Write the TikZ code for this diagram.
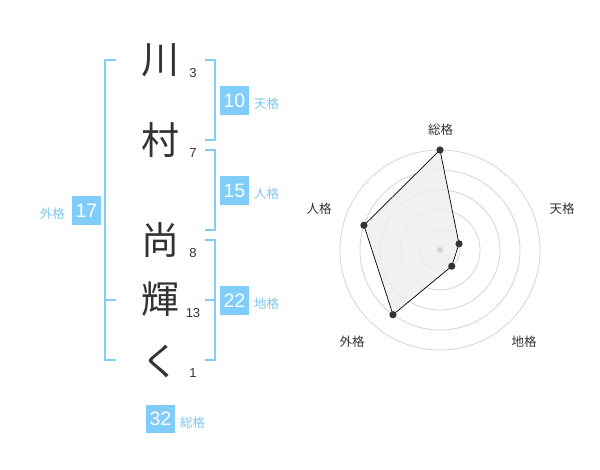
\documentclass[tikz,border=0pt]{standalone}
\usepackage{fontspec}
\setmainfont{Liberation Sans}
\newfontfamily\jp{Noto Sans CJK JP}
\definecolor{sky}{RGB}{128,204,250}
\definecolor{skytxt}{RGB}{125,198,240}
\definecolor{ringc}{RGB}{212,212,212}
\definecolor{polyc}{RGB}{238,238,238}
\definecolor{ink}{RGB}{51,51,51}
\begin{document}
\begin{tikzpicture}[x=1pt,y=-1pt,
  bigchar/.style={font=\jp\fontsize{38}{38}\selectfont, text=ink, inner sep=0pt},
  strk/.style={font=\fontsize{13}{13}\selectfont, text=ink, inner sep=0pt},
  valbox/.style={fill=sky, text=white, minimum width=28.5pt, minimum height=28.5pt, inner sep=0pt, font=\fontsize{19.5}{19.5}\selectfont},
  kaku/.style={font=\jp\fontsize{12.5}{12.5}\selectfont, text=skytxt, inner sep=0pt},
  brk/.style={draw=sky, line width=2pt},
  ringl/.style={draw=ringc, line width=0.8pt},
  rdot/.style={circle, fill=ink, minimum size=7.2pt, inner sep=0pt},
  rlab/.style={font=\jp\fontsize{12.5}{12.5}\selectfont, text=ink, inner sep=0pt}]
\useasboundingbox (0,0) rectangle (600,470);
% characters
\node[bigchar] (c1) at (160,60) {川};
\node[bigchar] (c2) at (160,140) {村};
\node[bigchar] (c3) at (160,240) {尚};
\node[bigchar] (c4) at (160,299) {輝};
\node[bigchar] (c5) at (160,361) {く};
% stroke counts
\node[strk] (n1) at (193,73) {3};
\node[strk] (n2) at (193,153) {7};
\node[strk] (n3) at (193,253) {8};
\node[strk] (n4) at (193,313) {13};
\node[strk] (n5) at (193,373) {1};
% brackets
\draw[brk] (116,60) -- (105,60) -- (105,360) -- (116,360);
\draw[brk] (105,300) -- (116,300);
\draw[brk] (205,60) -- (215,60) -- (215,140) -- (205,140);
\draw[brk] (205,150) -- (215,150) -- (215,230) -- (205,230);
\draw[brk] (205,240) -- (215,240) -- (215,360) -- (205,360);
\draw[brk] (205,300) -- (215,300);
% value boxes
\node[valbox] (b10) at (234.5,100.5) {10};
\node[kaku, anchor=west] (k10) at (254,104) {天格};
\node[valbox] (b15) at (234.5,190.5) {15};
\node[kaku, anchor=west] (k15) at (254,194) {人格};
\node[valbox] (b22) at (234.5,300.5) {22};
\node[kaku, anchor=west] (k22) at (254,304) {地格};
\node[valbox] (b17) at (86.5,210.5) {17};
\node[kaku, anchor=east] (k17) at (65,214) {外格};
\node[valbox] (b32) at (160.5,419) {32};
\node[kaku, anchor=west] (k32) at (180,423) {総格};
% radar
\coordinate (ctr) at (440,250);
\begin{scope}[shift={(ctr)}]
  \foreach \r in {20,40,60,80,100} \draw[ringl] (0,0) circle[radius=\r pt];
  \coordinate (p1) at (90:100pt);
  \coordinate (p2) at (18:20pt);
  \coordinate (p3) at (-54:20pt);
  \coordinate (p4) at (-126:80pt);
  \coordinate (p5) at (162:80pt);
  \filldraw[fill=polyc, fill opacity=0.85, draw=black, line width=0.7pt] (p1) -- (p2) -- (p3) -- (p4) -- (p5) -- cycle;
  \fill[ringc] (0,0) circle[radius=3pt];
  \node[rdot] (d1) at (p1) {};
  \node[rdot] (d2) at (p2) {};
  \node[rdot] (d3) at (p3) {};
  \node[rdot] (d4) at (p4) {};
  \node[rdot] (d5) at (p5) {};
\end{scope}
\node[rlab] (l1) at (440.5,130) {総格};
\node[rlab] (l2) at (562,209) {天格};
\node[rlab] (l3) at (524,342) {地格};
\node[rlab] (l4) at (352,342) {外格};
\node[rlab] (l5) at (319,209) {人格};
\end{tikzpicture}
\end{document}
